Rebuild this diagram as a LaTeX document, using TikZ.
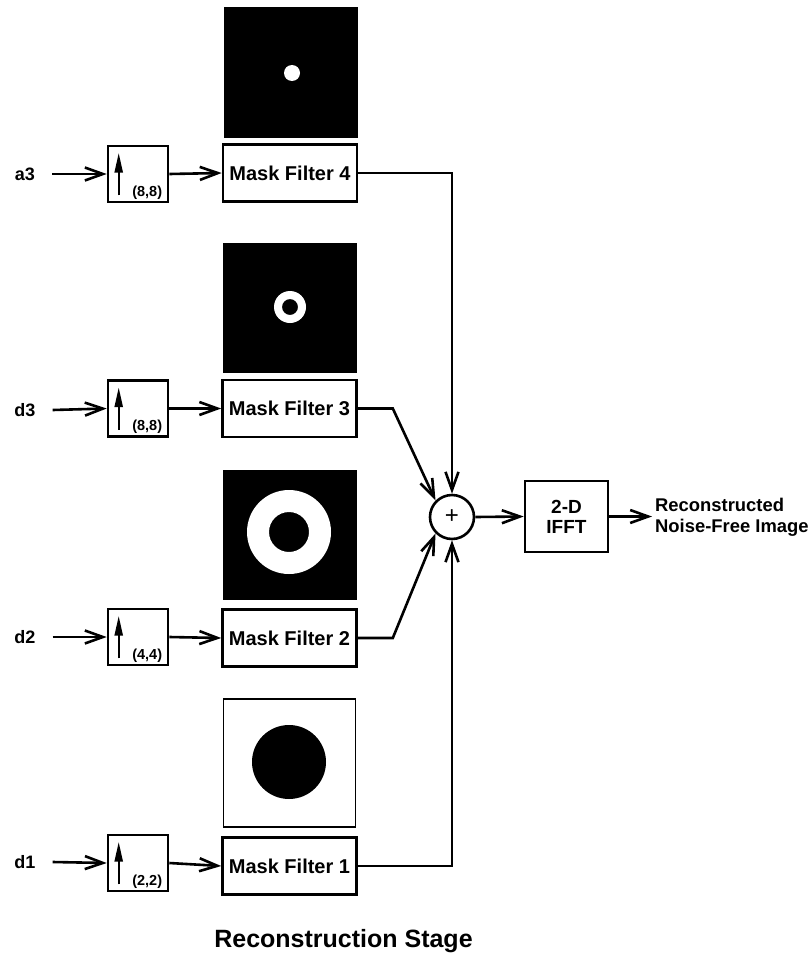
\documentclass[tikz,border=0pt]{standalone}
\usepackage{fontspec}
\setmainfont{Liberation Sans}
\usetikzlibrary{arrows.meta,calc}
\begin{document}
\begin{tikzpicture}[x=1pt,y=-1pt,
  every node/.style={font=\fontsize{20}{24}\selectfont\bfseries},
  conn/.style={line width=2.6pt},
  arr/.style={conn,-{Straight Barb[length=18pt,width=13pt,line width=2.6pt]}},
  maskbox/.style={draw,line width=2.6pt,minimum width=134pt,minimum height=57pt,inner sep=0pt},
  upbox/.style={draw,line width=2.6pt,minimum width=60pt,minimum height=56pt,inner sep=0pt},
  sig/.style={inner sep=0pt,font=\fontsize{18}{22}\selectfont\bfseries},
  ratio/.style={font=\fontsize{14.5}{16}\selectfont\bfseries,inner sep=0pt,anchor=south east},
  imgbox/.style={minimum width=134pt,minimum height=130pt,inner sep=0pt},
  uparr/.style={line width=2.4pt,-{Triangle[length=20pt,width=8pt]}}
]
\useasboundingbox (0,0) rectangle (810,958);

% mask images
\node[imgbox,fill=black] (img4) at (291,72.5) {};
\fill[white] (292,73) circle (8);
\node[imgbox,fill=black] (img3) at (290,307.5) {};
\fill[white,even odd rule] (290,307) circle (16) (290,307) circle (8);
\node[imgbox,fill=black] (img2) at (289.5,535) {};
\fill[white,even odd rule] (289,532) circle (42) (289,532) circle (20);
\node[imgbox,draw=black,line width=1.5pt,minimum width=132pt,minimum height=128pt] (img1) at (289.5,763) {};
\fill[black] (289,762) circle (37);

% mask filters
\node[maskbox] (m4) at (290,173) {Mask Filter 4};
\node[maskbox] (m3) at (289.5,408.5) {Mask Filter 3};
\node[maskbox] (m2) at (289.5,638) {Mask Filter 2};
\node[maskbox] (m1) at (289.5,866) {Mask Filter 1};

% upsamplers
\node[upbox] (u4) at (138,174) {};
\node[upbox] (u3) at (138,408.5) {};
\node[upbox] (u2) at (138,637) {};
\node[upbox] (u1) at (138,863) {};
\foreach \u/\r in {u4/{(8,8)},u3/{(8,8)},u2/{(4,4)},u1/{(2,2)}}{
  \draw[uparr] ([xshift=12pt,yshift=8pt]\u.south west) -- ([xshift=12pt,yshift=-8pt]\u.north west);
  \node[ratio] at ([xshift=-7pt,yshift=4pt]\u.south east) {\r};
}

% input labels
\node[sig] (a3) at (25,174) {a3};
\node[sig] (d3) at (25,410) {d3};
\node[sig] (d2) at (25,637) {d2};
\node[sig] (d1) at (25,862) {d1};
\foreach \s/\u in {a3/u4,d3/u3,d2/u2,d1/u1}{
  \draw[arr] ([xshift=17pt]\s.east) -- (\u.west);
}
\foreach \u/\m in {u4/m4,u3/m3,u2/m2,u1/m1}{
  \draw[arr] (\u.east) -- (\m.west);
}

% summing junction
\node[draw,circle,line width=2.6pt,minimum size=44pt,inner sep=0pt,font=\fontsize{24}{24}\selectfont] (sum) at (452,517) {+};

\draw[arr] (m4.east) -| (sum.north);
\draw[arr] (m3.east) -- ++(35,0) -- (sum.135);
\draw[arr] (m2.east) -- ++(35,0) -- (sum.225);
\draw[arr] (m1.east) -| (sum.south);

% IFFT
\node[draw,line width=2.6pt,minimum width=83pt,minimum height=71pt,inner sep=0pt,align=center,font=\fontsize{19}{20}\selectfont\bfseries] (ifft) at (566.5,516.5) {2-D\\IFFT};
\draw[arr] (sum.east) -- (ifft.west);
\coordinate (out) at (652,516.5);
\draw[arr] (ifft.east) -- (out);
\node[sig,anchor=west,align=left,font=\fontsize{18.4}{21}\selectfont\bfseries] (res) at (655,517) {Reconstructed\\Noise-Free Image};

\node[sig,font=\fontsize{25}{28}\selectfont\bfseries] (title) at (343.5,941) {Reconstruction Stage};
\end{tikzpicture}
\end{document}
